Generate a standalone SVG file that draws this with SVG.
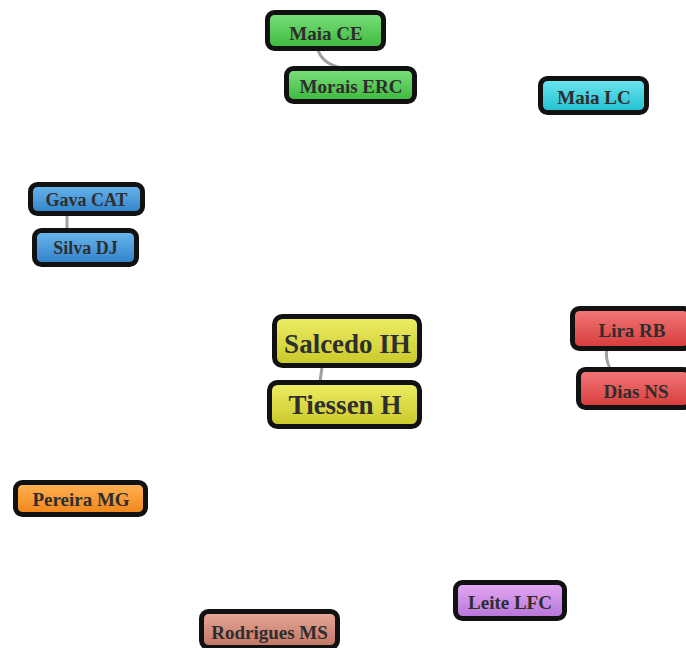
<svg xmlns="http://www.w3.org/2000/svg" width="686" height="648" viewBox="0 0 686 648">
<defs>
<linearGradient id="gGreen" x1="0" y1="0" x2="0" y2="1"><stop offset="0" stop-color="#7ce07c"/><stop offset="1" stop-color="#3cb83c"/></linearGradient>
<linearGradient id="gCyan" x1="0" y1="0" x2="0" y2="1"><stop offset="0" stop-color="#6fe6f0"/><stop offset="1" stop-color="#1fbfcf"/></linearGradient>
<linearGradient id="gBlue" x1="0" y1="0" x2="0" y2="1"><stop offset="0" stop-color="#6bb8ee"/><stop offset="1" stop-color="#2f80c8"/></linearGradient>
<linearGradient id="gYellow" x1="0" y1="0" x2="0" y2="1"><stop offset="0" stop-color="#eeee66"/><stop offset="1" stop-color="#c8c828"/></linearGradient>
<linearGradient id="gRed" x1="0" y1="0" x2="0" y2="1"><stop offset="0" stop-color="#f27a7a"/><stop offset="1" stop-color="#d83a3a"/></linearGradient>
<linearGradient id="gOrange" x1="0" y1="0" x2="0" y2="1"><stop offset="0" stop-color="#ffb456"/><stop offset="1" stop-color="#f08418"/></linearGradient>
<linearGradient id="gPurple" x1="0" y1="0" x2="0" y2="1"><stop offset="0" stop-color="#e6aaf4"/><stop offset="1" stop-color="#b474d8"/></linearGradient>
<linearGradient id="gSalmon" x1="0" y1="0" x2="0" y2="1"><stop offset="0" stop-color="#e8aa98"/><stop offset="1" stop-color="#c07464"/></linearGradient>
</defs>
<style>
.box{stroke:#111;stroke-width:5}
.t{font-family:"Liberation Serif","Times New Roman",serif;font-weight:bold;fill:#2e2e2e;text-anchor:middle;dominant-baseline:central}
.edge{fill:none;stroke:#a0a0a0;stroke-width:3}
</style>
<rect width="686" height="648" fill="#fff"/>
<g id="connectors">
<path class="edge" d="M318,50 C322,62 332,66 342,68"/>
<path class="edge" d="M67,214 L67,230"/>
<path class="edge" d="M322,367 L320,382"/>
<path class="edge" d="M607,349 C605,356 607,362 610,369"/>
</g>
<g id="maia-ce"><rect class="box" x="267.5" y="12.5" width="116" height="36" rx="7" fill="url(#gGreen)"/><text class="t" x="326" y="33" font-size="19">Maia CE</text></g>
<g id="morais-erc"><rect class="box" x="286.5" y="68.5" width="128" height="33" rx="7" fill="url(#gGreen)"/><text class="t" x="351" y="86" font-size="19">Morais ERC</text></g>
<g id="maia-lc"><rect class="box" x="540.5" y="78.5" width="106" height="34" rx="7" fill="url(#gCyan)"/><text class="t" x="594" y="97" font-size="19">Maia LC</text></g>
<g id="gava-cat"><rect class="box" x="30.5" y="184.5" width="112" height="29" rx="7" fill="url(#gBlue)"/><text class="t" x="86.5" y="199.5" font-size="18">Gava CAT</text></g>
<g id="silva-dj"><rect class="box" x="34.5" y="230.5" width="102" height="34" rx="7" fill="url(#gBlue)"/><text class="t" x="85.5" y="248" font-size="18">Silva DJ</text></g>
<g id="salcedo-ih"><rect class="box" x="274.5" y="316.5" width="145" height="49" rx="8" fill="url(#gYellow)"/><text class="t" x="347.5" y="344" font-size="27">Salcedo IH</text></g>
<g id="tiessen-h"><rect class="box" x="269.5" y="382.5" width="150" height="44" rx="8" fill="url(#gYellow)"/><text class="t" x="345" y="405" font-size="27">Tiessen H</text></g>
<g id="lira-rb"><rect class="box" x="572.5" y="308.5" width="118" height="40" rx="7" fill="url(#gRed)"/><text class="t" x="632" y="330" font-size="19">Lira RB</text></g>
<g id="dias-ns"><rect class="box" x="578.5" y="369.5" width="112" height="38" rx="7" fill="url(#gRed)"/><text class="t" x="636" y="391" font-size="19">Dias NS</text></g>
<g id="pereira-mg"><rect class="box" x="15.5" y="482.5" width="130" height="32" rx="7" fill="url(#gOrange)"/><text class="t" x="81" y="499" font-size="19">Pereira MG</text></g>
<g id="leite-lfc"><rect class="box" x="455.5" y="582.5" width="109" height="36" rx="7" fill="url(#gPurple)"/><text class="t" x="510" y="602" font-size="19">Leite LFC</text></g>
<g id="rodrigues-ms"><rect class="box" x="201.5" y="611.5" width="136" height="36" rx="7" fill="url(#gSalmon)"/><text class="t" x="269.5" y="632" font-size="19">Rodrigues MS</text></g>
</svg>
